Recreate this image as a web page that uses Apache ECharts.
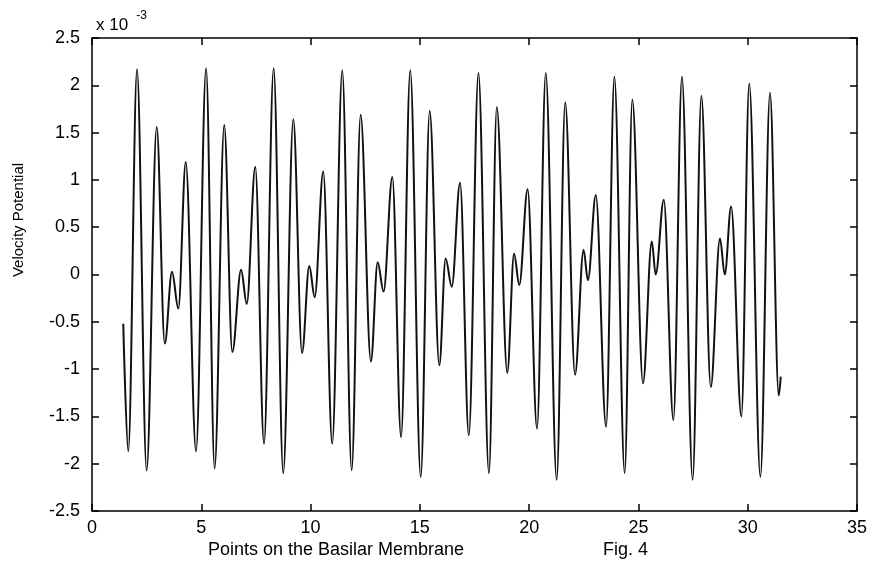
<!DOCTYPE html>
<html>
<head>
<meta charset="utf-8">
<script src="https://cdn.jsdelivr.net/npm/echarts@6/dist/echarts.min.js"></script>
<style>
html,body{margin:0;padding:0;background:#fff;}
#chart{width:869px;height:566px;}
</style>
</head>
<body>
<div id="chart"></div>
<script>
// Positions along the basilar membrane (x) and velocity potential (units of 1e-3) at extrema
var positions = [1.43, 1.66, 2.06, 2.50, 2.96, 3.33, 3.66, 3.95, 4.29, 4.76, 5.22, 5.61, 6.05, 6.42, 6.82, 7.08, 7.47, 7.87, 8.31, 8.75, 9.21, 9.61, 9.94, 10.19, 10.58, 10.99, 11.45, 11.88, 12.29, 12.76, 13.07, 13.34, 13.74, 14.14, 14.56, 15.04, 15.45, 15.89, 16.18, 16.46, 16.84, 17.24, 17.68, 18.16, 18.52, 19.00, 19.31, 19.55, 19.93, 20.36, 20.76, 21.26, 21.65, 22.10, 22.49, 22.69, 23.05, 23.52, 23.90, 24.37, 24.72, 25.21, 25.61, 25.79, 26.16, 26.60, 26.99, 27.48, 27.88, 28.31, 28.73, 28.95, 29.24, 29.71, 30.07, 30.58, 31.02, 31.42, 31.51];
var velocityPotential = [-0.52, -1.87, 2.17, -2.07, 1.56, -0.73, 0.03, -0.36, 1.19, -1.87, 2.18, -2.05, 1.58, -0.82, 0.05, -0.31, 1.14, -1.79, 2.18, -2.10, 1.64, -0.83, 0.09, -0.24, 1.09, -1.79, 2.16, -2.07, 1.69, -0.92, 0.13, -0.18, 1.03, -1.72, 2.16, -2.14, 1.73, -0.96, 0.17, -0.13, 0.97, -1.70, 2.13, -2.10, 1.77, -1.04, 0.22, -0.11, 0.90, -1.63, 2.13, -2.17, 1.82, -1.06, 0.26, -0.06, 0.84, -1.61, 2.09, -2.10, 1.85, -1.15, 0.35, 0.00, 0.79, -1.54, 2.09, -2.17, 1.89, -1.19, 0.38, 0.00, 0.72, -1.50, 2.02, -2.14, 1.92, -1.28, -1.08];
var xTicks = {min: 0, max: 35, interval: 5};
var yTicks = {min: -2.5, max: 2.5, interval: 0.5};
var xTitle = 'Points on the Basilar Membrane';
var yTitle = 'Velocity Potential';
var figLabel = 'Fig. 4';

var seriesData = positions.map(function (x, i) { return [x, velocityPotential[i]]; });

var FONT = '"Liberation Sans", Arial, Helvetica, sans-serif';
var lineStyle = {color: '#000', width: 1.5};
var chart = echarts.init(document.getElementById('chart'));
chart.setOption({
  backgroundColor: '#fff',
  animation: false,
  grid: {left: 92, right: 12, top: 38, bottom: 55, containLabel: false, outerBoundsMode: 'none'},
  title: {
    text: '{a|x 10}{b|-3}',
    left: 91, top: 0,
    textStyle: {
      rich: {
        a: {fontFamily: FONT, fontSize: 17, fontWeight: 'normal', color: '#000', padding: [12, 0, 0, 0]},
        b: {fontFamily: FONT, fontSize: 12, fontWeight: 'normal', color: '#000', padding: [0, 0, 8, 8]}
      }
    }
  },
  xAxis: [{
    type: 'value', min: xTicks.min, max: xTicks.max, interval: xTicks.interval,
    position: 'bottom',
    axisLine: {show: true, onZero: false, lineStyle: lineStyle},
    axisTick: {show: true, inside: true, length: 7, lineStyle: lineStyle},
    axisLabel: {fontFamily: FONT, fontSize: 18, color: '#000', margin: 8},
    splitLine: {show: false}
  }, {
    type: 'value', min: xTicks.min, max: xTicks.max, interval: xTicks.interval,
    position: 'top',
    axisLine: {show: true, onZero: false, lineStyle: lineStyle},
    axisTick: {show: true, inside: true, length: 7, lineStyle: lineStyle},
    axisLabel: {show: false},
    splitLine: {show: false}
  }],
  yAxis: [{
    type: 'value', min: yTicks.min, max: yTicks.max, interval: yTicks.interval,
    position: 'left',
    axisLine: {show: true, onZero: false, lineStyle: lineStyle},
    axisTick: {show: true, inside: true, length: 7, lineStyle: lineStyle},
    axisLabel: {fontFamily: FONT, fontSize: 18, color: '#000', margin: 12},
    splitLine: {show: false}
  }, {
    type: 'value', min: yTicks.min, max: yTicks.max, interval: yTicks.interval,
    position: 'right',
    axisLine: {show: true, onZero: false, lineStyle: lineStyle},
    axisTick: {show: true, inside: true, length: 7, lineStyle: lineStyle},
    axisLabel: {show: false},
    splitLine: {show: false}
  }],
  graphic: [
    {type: 'text', left: 208, top: 541, style: {text: xTitle, font: '18px ' + FONT, fill: '#000'}},
    {type: 'text', left: 603, top: 541, style: {text: figLabel, font: '18px ' + FONT, fill: '#000'}},
    {type: 'text', x: 19, y: 220, rotation: Math.PI / 2,
     style: {text: yTitle, font: '15px ' + FONT, fill: '#000', align: 'center', verticalAlign: 'middle'}}
  ],
  series: [{
    type: 'line',
    data: seriesData,
    xAxisIndex: 0, yAxisIndex: 0,
    showSymbol: false,
    smooth: 0.35,
    smoothMonotone: 'x',
    lineStyle: {color: '#111', width: 2}
  }]
});
</script>
</body>
</html>
